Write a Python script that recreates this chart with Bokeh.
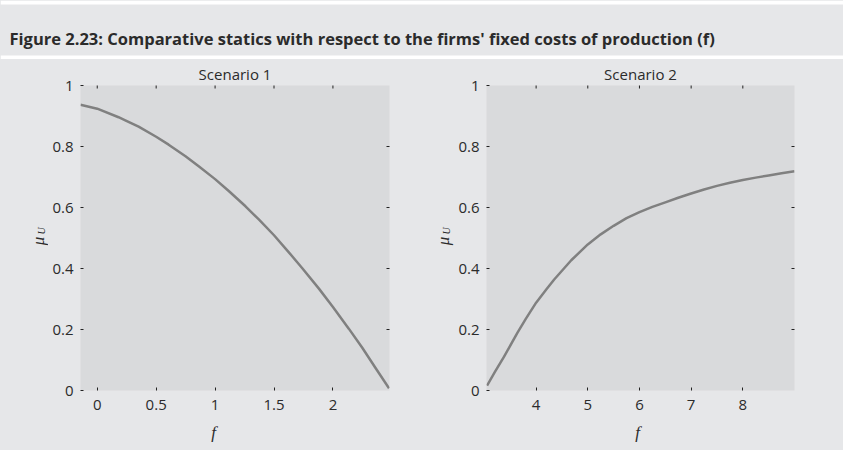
import numpy as np
from bokeh.plotting import figure
from bokeh.models import Label, FixedTicker, Range1d, BoxAnnotation
from bokeh.layouts import column, row
from bokeh.embed import file_html
from bokeh.resources import INLINE

# ---- data ----
fig_title = "Figure 2.23: Comparative statics with respect to the firms' fixed costs of production (f)"
panel_titles = ["Scenario 1", "Scenario 2"]
x_label = "f"
y_label_main = "μ"
y_label_sub = "U"

s1_f = [-0.142, 0.0, 0.181, 0.238, 0.351, 0.5, 0.606, 0.749, 0.861, 1.0, 1.116, 1.258,
        1.371, 1.5, 1.626, 1.74, 1.881, 2.0, 2.136, 2.249, 2.363, 2.476]
s1_mu = [0.937, 0.924, 0.896, 0.886, 0.865, 0.832, 0.806, 0.768, 0.735, 0.693, 0.654, 0.604,
         0.561, 0.509, 0.453, 0.401, 0.334, 0.274, 0.202, 0.140, 0.073, 0.007]
s1_xr = (-0.142, 2.48)
s1_xticks = [0, 0.5, 1, 1.5, 2]
s1_xlabels = ["0", "0.5", "1", "1.5", "2"]

s2_f = [3.05, 3.2, 3.38, 3.64, 3.8, 4.0, 4.2, 4.35, 4.68, 5.0, 5.25, 5.5, 5.75, 6.0, 6.25,
        6.5, 6.75, 7.0, 7.25, 7.5, 7.75, 8.0, 8.25, 8.5, 8.75, 9.0]
s2_mu = [0.016, 0.060, 0.111, 0.190, 0.235, 0.288, 0.332, 0.364, 0.427, 0.479, 0.512, 0.540,
         0.565, 0.585, 0.602, 0.617, 0.632, 0.646, 0.659, 0.671, 0.681, 0.690, 0.698, 0.705,
         0.712, 0.719]
s2_xr = (3.04, 9.0)
s2_xticks = [4, 5, 6, 7, 8]
s2_xlabels = ["4", "5", "6", "7", "8"]

y_r = (0, 1)
yticks = [0, 0.2, 0.4, 0.6, 0.8, 1]
ylabels = ["0", "0.2", "0.4", "0.6", "0.8", "1"]
inner_yticks = [0.2, 0.4, 0.6, 0.8]

# ---- styles ----
BG = "#e6e7e9"
FRAME = "#d9dadc"
LINE = "#808080"
TXT = "#2b2b2b"
TICKC = "#222222"
SANS = "Open Sans"
SERIF = "Liberation Serif"

TOP_H = 59
ROW_H = 361
BOT_H = 30


def blank(width, height):
    # frame covers the whole canvas, data range 0..width / 0..height (pixels)
    f = figure(width=width, height=height, toolbar_location=None, output_backend="svg",
               x_range=(0, width), y_range=(0, height), min_border=0, title=None)
    f.axis.visible = False
    f.grid.visible = False
    f.outline_line_color = None
    f.background_fill_color = BG
    f.border_fill_color = BG
    return f


# ---- title strip ----
pt = blank(843, TOP_H)
pt.add_layout(BoxAnnotation(bottom=0, top=4, fill_color="white", fill_alpha=1,
                            line_color=None))
pt.add_layout(BoxAnnotation(bottom=TOP_H - 4, top=TOP_H, fill_color="white", fill_alpha=1,
                            line_color=None))
pt.add_layout(Label(x=9, y=TOP_H - 38, text=fig_title,
                    text_font=SANS, text_font_style="bold", text_font_size="16.5px",
                    text_color=TXT, text_align="left", text_baseline="alphabetic"))


def ylab_strip(width, xc):
    s = blank(width, ROW_H)
    s.add_layout(Label(x=xc, y=177, text=y_label_main,
                       text_font=SERIF, text_font_style="italic", text_font_size="17px",
                       text_color=TXT, text_align="center", text_baseline="middle",
                       angle=np.pi / 2))
    s.add_layout(Label(x=xc + 3, y=189, text=y_label_sub,
                       text_font=SERIF, text_font_style="italic", text_font_size="10px",
                       text_color=TXT, text_align="center", text_baseline="middle",
                       angle=np.pi / 2))
    return s


def make_panel(fx, mu, xr, xticks, xlabels, title, width, bl, br):
    p = figure(width=width, height=ROW_H, toolbar_location=None, output_backend="svg",
               x_range=Range1d(*xr), y_range=Range1d(*y_r),
               min_border_left=bl, min_border_right=br,
               min_border_top=83 - TOP_H, min_border_bottom=30)
    p.background_fill_color = FRAME
    p.border_fill_color = BG
    p.outline_line_color = None
    p.grid.visible = False
    p.line(fx, mu, line_color=LINE, line_width=2.5)

    # mirrored inner ticks on top and right (half of each dash is clipped by the frame)
    p.scatter(xticks, [y_r[1]] * len(xticks), marker="dash", angle=np.pi / 2, size=6,
              line_color=TICKC, line_width=1)
    p.scatter([xr[1]] * len(inner_yticks), inner_yticks, marker="dash", size=6,
              line_color=TICKC, line_width=1)

    p.xaxis.ticker = FixedTicker(ticks=xticks)
    p.xaxis.major_label_overrides = {t: l for t, l in zip(xticks, xlabels)}
    p.yaxis.ticker = FixedTicker(ticks=yticks)
    p.yaxis.major_label_overrides = {t: l for t, l in zip(yticks, ylabels)}
    for ax in p.axis:
        ax.axis_line_color = None
        ax.major_tick_in = 3
        ax.major_tick_out = 0
        ax.major_tick_line_color = TICKC
        ax.minor_tick_line_color = None
        ax.major_label_text_font = SANS
        ax.major_label_text_font_size = "15px"
        ax.major_label_text_color = TXT
    p.xaxis.major_label_standoff = 9
    p.yaxis.major_label_standoff = 7

    p.title.text = title
    p.title.align = "center"
    p.title.text_font = SANS
    p.title.text_font_style = "normal"
    p.title.text_font_size = "15px"
    p.title.text_color = TXT
    p.title.standoff = 4
    return p


ls1 = ylab_strip(48, 38)
p1 = make_panel(s1_f, s1_mu, s1_xr, s1_xticks, s1_xlabels, panel_titles[0], 372, 32, 31)
ls2 = ylab_strip(35, 22.5)
p2 = make_panel(s2_f, s2_mu, s2_xr, s2_xticks, s2_xlabels, panel_titles[1], 388, 30, 49)

pb = blank(843, BOT_H)
for xc in (213, 637):
    pb.add_layout(Label(x=xc, y=18, text=x_label,
                        text_font=SERIF, text_font_style="italic", text_font_size="17px",
                        text_color=TXT, text_align="center", text_baseline="middle"))

layout = column(pt, row(ls1, p1, ls2, p2, spacing=0), pb, spacing=0)
layout.background = BG
open("out.html", "w").write(file_html(layout, INLINE))
